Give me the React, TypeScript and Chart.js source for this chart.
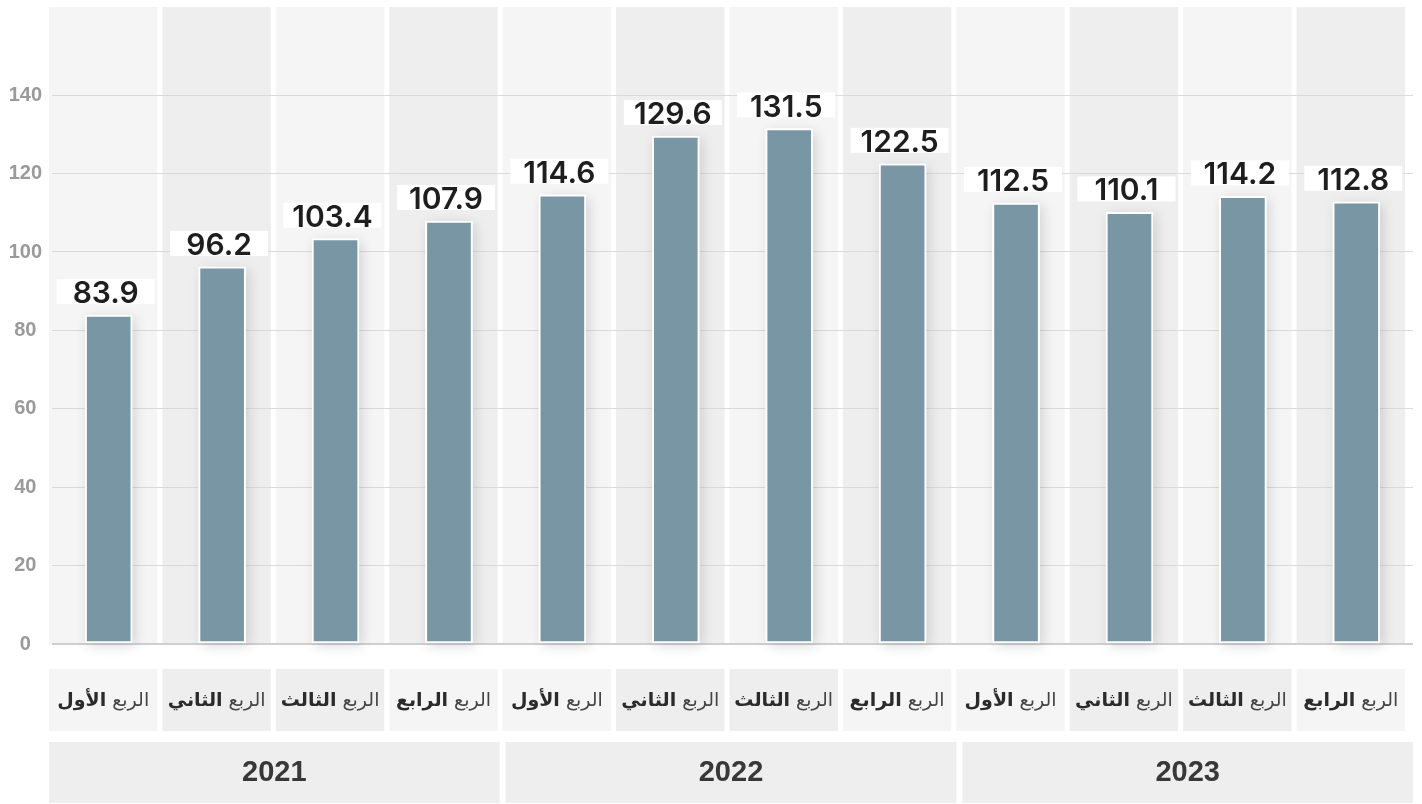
import React, { useEffect, useRef } from 'react';
import { Chart, registerables } from 'chart.js';

Chart.register(...registerables);

// ---------- data ----------
const years = ['2021', '2022', '2023'];
const quarterPrefix = 'الربع';
const quarterNames = ['الأول', 'الثاني', 'الثالث', 'الرابع'];
const categories = years.flatMap((y) => quarterNames.map((q) => `${quarterPrefix} ${q} ${y}`));
const values = [83.9, 96.2, 103.4, 107.9, 114.6, 129.6, 131.5, 122.5, 112.5, 110.1, 114.2, 112.8];
const yTicks = [0, 20, 40, 60, 80, 100, 120, 140];
const yMax = 162.5;

// ---------- style ----------
const BAR_COLOR = '#7996a5';
const COL_LIGHT = '#f5f5f5';
const COL_DARK = '#eeeeee';
const LABEL_BOX_COLORS = [COL_LIGHT, COL_DARK, COL_DARK, COL_LIGHT];
const COL_GAP = 5;
const COL_SHIFT = 3;

function colSpan(chart: any, i: number) {
  const { chartArea, scales } = chart;
  const p = (chartArea.right - chartArea.left) / categories.length;
  const c = scales.x.getPixelForValue(i);
  const x0 = c - p / 2 - COL_SHIFT;
  return { x0, w: p - COL_GAP, c };
}

function yearSpans(chart: any) {
  const { chartArea } = chart;
  const left = chartArea.left - COL_SHIFT;
  const right = chartArea.right;
  const gap = 6;
  const yw = (right - left - gap * (years.length - 1)) / years.length;
  return years.map((_, k) => ({ x0: left + k * (yw + gap), w: yw }));
}

const backgroundPlugin = {
  id: 'columnBackgrounds',
  beforeDraw(chart: any) {
    const { ctx, chartArea } = chart;
    ctx.save();
    categories.forEach((_, i) => {
      const { x0, w } = colSpan(chart, i);
      ctx.fillStyle = i % 2 === 0 ? COL_LIGHT : COL_DARK;
      ctx.fillRect(x0, chartArea.top, w, chartArea.bottom + 1 - chartArea.top);
      ctx.fillStyle = LABEL_BOX_COLORS[i % 4];
      ctx.fillRect(x0, chartArea.bottom + 25, w, 62);
    });
    yearSpans(chart).forEach(({ x0, w }) => {
      ctx.fillStyle = COL_DARK;
      ctx.fillRect(x0, chartArea.bottom + 98, w, 61);
    });
    ctx.restore();
  },
  beforeDatasetsDraw(chart: any) {
    const { ctx } = chart;
    const meta = chart.getDatasetMeta(0);
    ctx.save();
    ctx.shadowColor = 'rgba(0,0,0,0.14)';
    ctx.shadowBlur = 12;
    ctx.shadowOffsetX = 3;
    ctx.shadowOffsetY = 3;
    ctx.fillStyle = '#ffffff';
    meta.data.forEach((bar: any) => {
      const { x, y, base, width } = bar.getProps(['x', 'y', 'base', 'width'], true);
      ctx.fillRect(x - width / 2, y, width, base - y);
    });
    ctx.restore();
  },
  afterDatasetsDraw(chart: any) {
    const { ctx } = chart;
    const meta = chart.getDatasetMeta(0);
    ctx.save();
    meta.data.forEach((bar: any, i: number) => {
      const { x, y } = bar.getProps(['x', 'y'], true);
      const boxW = 98;
      const boxH = 25;
      const bottom = y - 11;
      const cx = x - COL_SHIFT;
      ctx.fillStyle = '#ffffff';
      ctx.fillRect(cx - boxW / 2, bottom - boxH, boxW, boxH);
      ctx.fillStyle = '#1e1e1e';
      ctx.font = '600 30px Inter, "Noto Sans", sans-serif';
      ctx.textAlign = 'center';
      ctx.textBaseline = 'alphabetic';
      ctx.fillText(values[i].toFixed(1), cx, bottom - 1);
    });
    ctx.restore();
  },
  afterDraw(chart: any) {
    const { ctx, chartArea } = chart;
    ctx.save();
    ctx.textBaseline = 'middle';
    ctx.textAlign = 'left';
    const boldFont = 'bold 19px "DejaVu Sans", sans-serif';
    const regFont = '19px "DejaVu Sans", sans-serif';
    const ty = chartArea.bottom + 57;
    categories.forEach((_, i) => {
      const { x0, w } = colSpan(chart, i);
      const q = quarterNames[i % 4];
      ctx.font = boldFont;
      const wb = ctx.measureText(q).width;
      ctx.font = regFont;
      const wr = ctx.measureText(quarterPrefix).width;
      const space = 6;
      const total = wb + space + wr;
      const start = x0 + w / 2 - total / 2;
      // RTL: bold quarter name on the left, prefix on the right
      ctx.font = boldFont;
      ctx.fillStyle = '#2b2b2b';
      ctx.fillText(q, start, ty);
      ctx.font = regFont;
      ctx.fillStyle = '#444444';
      ctx.fillText(quarterPrefix, start + wb + space, ty);
    });
    ctx.textAlign = 'center';
    ctx.font = 'bold 29px "Liberation Sans", Arial, sans-serif';
    ctx.fillStyle = '#383838';
    yearSpans(chart).forEach(({ x0, w }, k) => {
      ctx.fillText(years[k], x0 + w / 2, chartArea.bottom + 98 + 31);
    });
    ctx.restore();
  },
};

export default function App() {
  const canvasRef = useRef<HTMLCanvasElement | null>(null);

  useEffect(() => {
    document.body.style.margin = '0';
    const canvas = canvasRef.current;
    if (!canvas) return;
    const chart = new Chart(canvas, {
      type: 'bar',
      data: {
        labels: categories,
        datasets: [
          {
            data: values,
            backgroundColor: BAR_COLOR,
            borderColor: '#ffffff',
            borderWidth: 2,
            borderSkipped: false,
            barThickness: 47,
          },
        ],
      },
      options: {
        animation: false,
        responsive: false,
        maintainAspectRatio: false,
        layout: { padding: { top: 7, bottom: 160, right: 9, left: 0 } },
        plugins: {
          legend: { display: false },
          tooltip: { enabled: false },
          title: { display: false },
        },
        scales: {
          x: {
            display: false,
            offset: true,
          },
          y: {
            min: 0,
            max: yMax,
            afterBuildTicks: (scale: any) => {
              scale.ticks = yTicks.map((v) => ({ value: v }));
            },
            afterFit: (scale: any) => {
              scale.width = 52;
              scale.paddingTop = 0;
              scale.paddingBottom = 0;
            },
            border: { display: false },
            grid: {
              drawTicks: false,
              color: (ctx: any) => (ctx.tick && ctx.tick.value === 0 ? '#cfcfcf' : '#dadada'),
              lineWidth: (ctx: any) => (ctx.tick && ctx.tick.value === 0 ? 2 : 1),
            },
            ticks: {
              crossAlign: 'center',
              padding: 10,
              color: '#9a9a9a',
              font: { family: '"Liberation Sans", Arial, sans-serif', size: 20, weight: 'bold' },
            },
          },
        },
      },
      plugins: [backgroundPlugin],
    });
    return () => chart.destroy();
  }, []);

  return (
    <div style={{ position: 'absolute', left: 0, top: 0, width: 1422, height: 804, background: '#ffffff' }}>
      <canvas ref={canvasRef} width={1422} height={804} style={{ display: 'block', width: 1422, height: 804 }} />
    </div>
  );
}
